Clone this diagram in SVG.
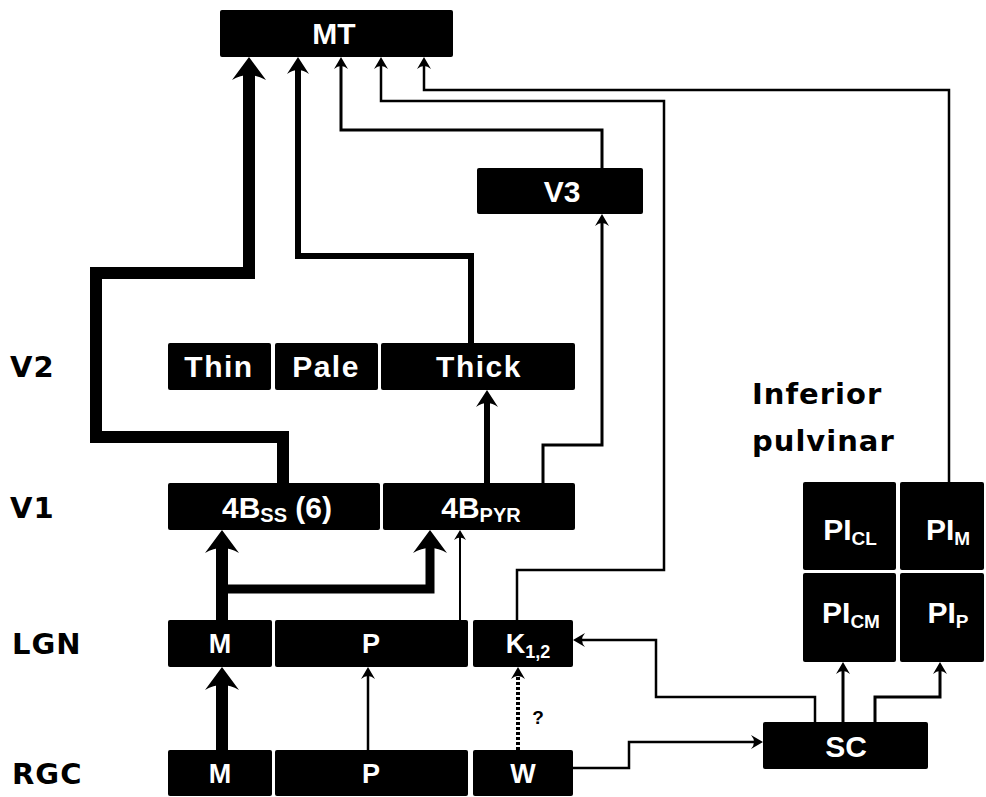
<svg xmlns="http://www.w3.org/2000/svg" xmlns:xlink="http://www.w3.org/1999/xlink" width="986" height="797" viewBox="0 0 986 797">
<style>
.box{fill:#000;}
.bt{fill:#fff;font-family:"Liberation Sans",Arial,sans-serif;font-weight:bold;font-size:30px;text-anchor:middle;}
.bs{fill:#fff;font-family:"Liberation Sans",Arial,sans-serif;font-weight:bold;font-size:27px;text-anchor:middle;}
.lbl{fill:#000;font-family:"DejaVu Sans",sans-serif;font-weight:bold;font-size:29px;letter-spacing:1px;}
.c{fill:none;stroke:#000;stroke-linejoin:miter;stroke-linecap:butt;}
.w12{stroke-width:12;}
.w9{stroke-width:9;}
.w6{stroke-width:6;}
.w3{stroke-width:3;}
.w25{stroke-width:2.5;}
.w2{stroke-width:2;}
.dot{stroke-width:4;stroke-dasharray:3 2;}
</style>
<defs>
<path id="hB" d="M0,0 L17,23 Q0,13 -17,23 Z" fill="#000"/>
<path id="hM" d="M0,0 L11,17 Q0,9 -11,17 Z" fill="#000"/>
<path id="hS" d="M0,0 L7,12 Q0,6 -7,12 Z" fill="#000"/>
<path id="hT" d="M0,0 L6,10 Q0,5 -6,10 Z" fill="#000"/>
</defs>
<rect width="986" height="797" fill="#fff"/>

<g id="labels">
<text class="lbl" x="10" y="377">V2</text>
<text class="lbl" x="10" y="518">V1</text>
<text class="lbl" x="12" y="654">LGN</text>
<text class="lbl" x="12" y="784">RGC</text>
<text class="lbl" x="752" y="404" font-size="28">Inferior</text>
<text class="lbl" x="752" y="451" font-size="28">pulvinar</text>
</g>

<g id="connectors">
<path class="c w12" d="M283,483 V437 H96 V273 H249 V71"/>
<use href="#hB" x="249" y="57"/>
<path class="c w6" d="M471,343 V256 H298 V68"/>
<use href="#hM" x="298" y="57"/>
<path class="c w3" d="M602,168 V130 H341 V66"/>
<use href="#hS" x="341" y="57"/>
<path class="c w25" d="M517,620 V570 H664 V101 H381 V66"/>
<use href="#hS" x="381" y="57"/>
<path class="c w25" d="M949,482 V90 H424 V66"/>
<use href="#hS" x="424" y="57"/>
<path class="c w6" d="M487,483 V401"/>
<use href="#hM" x="487" y="390"/>
<path class="c w3" d="M543,483 V445 H602 V223"/>
<use href="#hS" x="602" y="214"/>
<path class="c w12" d="M222,620 V544"/>
<use href="#hB" x="222" y="530"/>
<path class="c w9" d="M222,589 H430 V544"/>
<use href="#hB" x="430" y="530"/>
<path class="c w2" d="M460,620 V537"/>
<use href="#hT" x="460" y="530"/>
<path class="c w12" d="M222,750 V681"/>
<use href="#hB" x="222" y="667"/>
<path class="c w25" d="M368,750 V676"/>
<use href="#hS" x="368" y="667"/>
<path class="c dot" d="M518,750 V676"/>
<use href="#hS" x="518" y="667"/>
<text x="538" y="724" font-family="'Liberation Sans',Arial,sans-serif" font-weight="bold" font-size="19" text-anchor="middle">?</text>
<path class="c w25" d="M573,768 H629 V742 H754"/>
<use href="#hS" transform="translate(763,742) rotate(90)"/>
<path class="c w25" d="M815,722 V697 H656 V640 H582"/>
<use href="#hS" transform="translate(573,640) rotate(-90)"/>
<path class="c w3" d="M843,722 V671"/>
<use href="#hS" x="843" y="662"/>
<path class="c w3" d="M875,722 V697 H940 V671"/>
<use href="#hS" x="940" y="662"/>
</g>

<g id="MT"><rect class="box" x="220" y="10" width="233" height="47" rx="2"/><text class="bt" x="334" y="44">MT</text></g>
<g id="V3"><rect class="box" x="477" y="168" width="166" height="46" rx="2"/><text class="bt" x="562" y="202">V3</text></g>

<g id="V2-Thin"><rect class="box" x="168" y="343" width="103" height="47" rx="2"/><text class="bt" x="219" y="377" letter-spacing="1.5">Thin</text></g>
<g id="V2-Pale"><rect class="box" x="275" y="343" width="103" height="47" rx="2"/><text class="bt" x="326" y="377" letter-spacing="1.5">Pale</text></g>
<g id="V2-Thick"><rect class="box" x="381" y="343" width="194" height="47" rx="2"/><text class="bt" x="479" y="377" letter-spacing="1.5">Thick</text></g>

<g id="V1-4Bss"><rect class="box" x="168" y="483" width="212" height="47" rx="2"/><text class="bt" x="277" y="518">4B<tspan font-size="20" dy="4">SS</tspan><tspan dy="-4"> (6)</tspan></text></g>
<g id="V1-4Bpyr"><rect class="box" x="383" y="483" width="192" height="47" rx="2"/><text class="bt" x="481" y="518">4B<tspan font-size="20" dy="4">PYR</tspan></text></g>

<g id="LGN-M"><rect class="box" x="168" y="620" width="104" height="47" rx="2"/><text class="bs" x="220" y="653">M</text></g>
<g id="LGN-P"><rect class="box" x="275" y="620" width="193" height="47" rx="2"/><text class="bs" x="371" y="653">P</text></g>
<g id="LGN-K"><rect class="box" x="473" y="620" width="100" height="47" rx="2"/><text class="bs" x="528" y="653">K<tspan font-size="18" dy="5">1,2</tspan></text></g>

<g id="RGC-M"><rect class="box" x="168" y="750" width="104" height="46" rx="2"/><text class="bs" x="220" y="783">M</text></g>
<g id="RGC-P"><rect class="box" x="275" y="750" width="193" height="46" rx="2"/><text class="bs" x="371" y="783">P</text></g>
<g id="RGC-W"><rect class="box" x="473" y="750" width="100" height="46" rx="2"/><text class="bs" x="523" y="783">W</text></g>

<g id="PIcl"><rect class="box" x="803" y="482" width="93" height="88" rx="2"/><text class="bt" x="850" y="540">PI<tspan font-size="19" dy="5">CL</tspan></text></g>
<g id="PIm"><rect class="box" x="900" y="482" width="84" height="88" rx="2"/><text class="bt" x="948" y="540">PI<tspan font-size="19" dy="5">M</tspan></text></g>
<g id="PIcm"><rect class="box" x="803" y="573" width="93" height="89" rx="2"/><text class="bt" x="851" y="623">PI<tspan font-size="19" dy="5">CM</tspan></text></g>
<g id="PIp"><rect class="box" x="900" y="573" width="84" height="89" rx="2"/><text class="bt" x="948" y="623">PI<tspan font-size="19" dy="5">P</tspan></text></g>

<g id="SC"><rect class="box" x="763" y="722" width="165" height="47" rx="2"/><text class="bt" x="846" y="757">SC</text></g>
</svg>
